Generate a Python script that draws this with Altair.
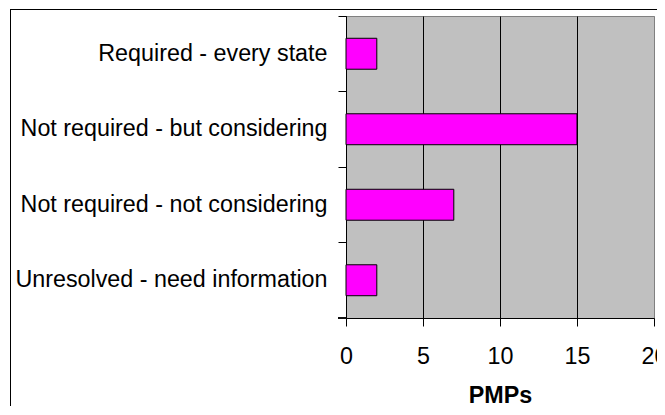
import altair as alt
import pandas as pd

categories = [
    "Required - every state",
    "Not required - but considering",
    "Not required - not considering",
    "Unresolved - need information",
]
values = [2, 15, 7, 2]
x_ticks = [0, 5, 10, 15, 20]

df = pd.DataFrame({"category": categories, "PMPs": values})

FONT = "Liberation Sans"
FS = 23.3

y_enc = alt.Y(
    "category:N",
    sort=categories,
    title=None,
    scale=alt.Scale(paddingInner=0, paddingOuter=0),
    axis=alt.Axis(
        bandPosition=0,
        tickSize=8,
        labelPadding=11,
        domainColor="black",
        tickColor="black",
        labelColor="black",
        labelFont=FONT,
        labelFontSize=FS,
        labelLimit=400,
        grid=False,
    ),
)

x_enc = alt.X(
    "PMPs:Q",
    scale=alt.Scale(domain=[0, 20], nice=False),
    axis=alt.Axis(
        values=x_ticks,
        tickSize=8,
        labelPadding=19,
        domainColor="black",
        tickColor="black",
        labelColor="black",
        labelFont=FONT,
        labelFontSize=FS,
        labelFlush=False,
        labelOverlap=False,
        grid=True,
        gridColor={"condition": {"test": "datum.value >= 20", "value": "#808080"}, "value": "black"},
        gridOpacity=1,
        title="PMPs",
        titleFont=FONT,
        titleFontSize=FS,
        titleFontWeight="bold",
        titleColor="black",
        titlePadding=17,
    ),
)

base = alt.Chart(df)

border = base.mark_rect(fillOpacity=0, stroke="black", strokeWidth=1).encode(
    x=alt.value(-335.5), x2=alt.value(700), y=alt.value(-6.5), y2=alt.value(500)
)

bars = base.mark_bar(
    color="#FF00FF", stroke="black", strokeWidth=1, height=alt.RelativeBandSize(band=0.41)
).encode(x=x_enc, y=y_enc)

bottom_tick = base.mark_rule(color="black", strokeWidth=1).encode(
    x=alt.value(-8), x2=alt.value(0), y=alt.value(302)
)

chart = (
    alt.layer(border, bars, bottom_tick)
    .properties(
        width=308,
        height=302,
        autosize=alt.AutoSizeParams(type="none"),
        padding={"left": 338, "top": 8, "right": 3, "bottom": 88},
        background="white",
    )
    .configure_view(fill="#C0C0C0", stroke="#808080", strokeWidth=1)
)

chart.save("out.html", embed_options={"renderer": "svg", "actions": False})
